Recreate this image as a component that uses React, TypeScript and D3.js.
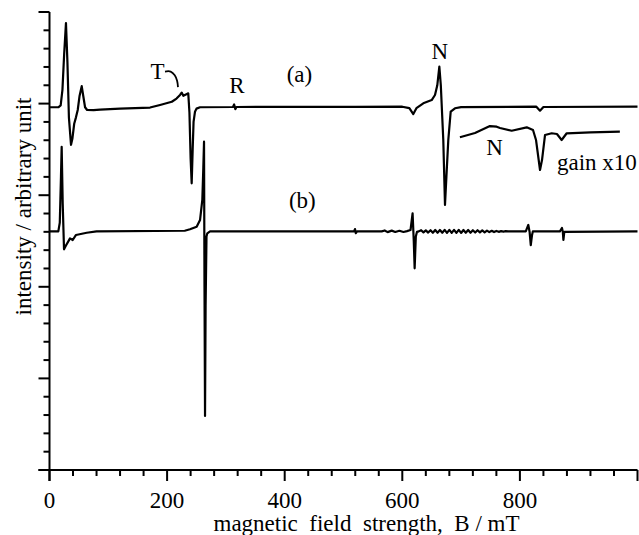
import React from "react";
import * as d3 from "d3";

// ---- data (B in mT, intensity in arbitrary units) ----
const seriesA: [number, number][] = [
  [0, 3.96], [15, 3.96], [19, 3.98], [22, 4.15], [25, 4.55], [28, 4.88], [30.5, 4.45], [33, 3.85], [36.6, 3.55],
  [39, 3.62], [42, 3.78], [45, 3.85], [48, 3.93], [51, 4.08], [54.8, 4.19], [57.5, 4.08], [60.5, 3.96], [64, 3.93],
  [75, 3.928], [86, 3.935], [120, 3.945], [171, 3.957], [188, 3.985], [208, 4.02], [216, 4.055], [222, 4.094],
  [224.8, 4.12], [227.6, 4.085], [232, 4.1], [236, 4.112], [238, 3.9], [240, 3.4], [241.8, 3.13], [243.5, 3.5],
  [245, 3.8], [247.4, 3.91], [250, 3.945], [256, 3.96], [312, 3.963], [314, 3.99], [316, 3.94], [318, 3.963],
  [520, 3.965], [600, 3.966], [612, 3.95], [618.7, 3.886], [624, 3.95], [635.7, 4.003], [650, 4.039],
  [655.6, 4.094], [659.5, 4.2], [663, 4.403], [665.5, 4.2], [669.7, 3.603], [672.6, 2.893], [675, 3.2],
  [678.2, 3.6], [682.3, 3.912], [689.6, 3.949], [700, 3.962], [828, 3.966], [834.2, 3.923], [840, 3.963],
  [1000, 3.966],
];

const seriesGain: [number, number][] = [
  [698, 3.632], [723.6, 3.679], [749, 3.755], [760.5, 3.748], [766.2, 3.734], [786, 3.704], [811.6, 3.741],
  [822.3, 3.712], [827.4, 3.603], [834.2, 3.275], [837.6, 3.384], [842.7, 3.657], [854.1, 3.676], [863, 3.668],
  [871, 3.603], [879.6, 3.676], [920, 3.685], [970, 3.693],
];

const seriesB: [number, number][] = [
  [0, 2.605], [15, 2.605], [17.5, 2.7], [19.5, 3.2], [20.7, 3.529], [22.5, 2.9], [24.7, 2.409], [28, 2.45],
  [34.9, 2.529], [39.5, 2.511], [45.1, 2.566], [63.3, 2.59], [80, 2.605], [230, 2.612], [238.9, 2.628],
  [250.3, 2.656], [256, 2.729], [259.9, 2.948], [261.6, 3.3], [262.8, 3.584], [263.6, 2.0], [264.5, 0.59],
  [265.5, 1.8], [267, 2.55], [268.4, 2.584], [273, 2.605], [518, 2.605], [519.5, 2.63], [521, 2.585], [523, 2.605],
  [565, 2.605], [570, 2.615], [575, 2.597], [582, 2.613], [588, 2.598], [595, 2.612], [602, 2.598], [608, 2.608],
  [614, 2.62], [617.5, 2.802], [619.5, 2.5], [621, 2.202], [623, 2.55], [625, 2.6],
  [628, 2.605], [632, 2.618], [636, 2.594], [640, 2.616], [644, 2.592], [648, 2.618], [652, 2.59], [656, 2.62],
  [660, 2.59], [664, 2.62], [668, 2.59], [672, 2.622], [676, 2.588], [680, 2.622], [684, 2.588], [688, 2.622],
  [692, 2.588], [696, 2.622], [700, 2.588], [704, 2.62], [708, 2.59], [712, 2.62], [716, 2.59], [720, 2.618],
  [724, 2.592], [728, 2.618], [732, 2.594], [736, 2.616], [740, 2.595], [744, 2.614], [748, 2.597], [752, 2.612],
  [756, 2.598], [760, 2.61], [764, 2.6], [768, 2.608], [772, 2.602], [776, 2.607], [780, 2.605],
  [810, 2.605], [814.3, 2.675], [816.5, 2.6], [818.5, 2.456], [820.5, 2.56], [822, 2.605],
  [868, 2.605], [871.5, 2.642], [873, 2.6], [874, 2.511], [875.5, 2.6], [1000, 2.605],
];

const tHook: [number, number][] = [[196.4, 4.35], [206, 4.35], [213, 4.31], [217, 4.25], [218.5, 4.18]];

const xMajorTicks = [0, 200, 400, 600, 800, 1000];
const xTickLabels = ["0", "200", "400", "600", "800", ""];
const yMajorTicks = [0, 1, 2, 3, 4, 5];

const annotations: { text: string; B: number; v: number; anchor: string }[] = [
  { text: "T", B: 183.7, v: 4.269, anchor: "middle" },
  { text: "R", B: 318.9, v: 4.116, anchor: "middle" },
  { text: "(a)", B: 425, v: 4.236, anchor: "middle" },
  { text: "N", B: 664, v: 4.487, anchor: "middle" },
  { text: "N", B: 757, v: 3.439, anchor: "middle" },
  { text: "gain x10", B: 863, v: 3.275, anchor: "start" },
  { text: "(b)", B: 430, v: 2.86, anchor: "middle" },
];

const W = 639;
const H = 535;
const FONT = "'Liberation Serif', 'Times New Roman', serif";

export default function App() {
  const x = d3.scaleLinear().domain([0, 1000]).range([49.5, 637.5]);
  const y = d3.scaleLinear().domain([0, 5]).range([470, 12]);
  const line = d3.line<[number, number]>().x((d) => x(d[0])).y((d) => y(d[1]));
  const hook = d3.line<[number, number]>().x((d) => x(d[0])).y((d) => y(d[1])).curve(d3.curveCatmullRom);

  const xMinor = d3.range(0, 1001, 40).filter((t) => t % 200 !== 0);
  const yMinor = d3.range(0, 25).map((i) => i * 0.2).filter((t) => Math.abs(t - Math.round(t)) > 1e-6);

  return (
    <svg width={W} height={H} style={{ position: "absolute", left: 0, top: 0, background: "#fff" }}>
      <rect width={W} height={H} fill="#fff" />
      {/* axes */}
      <line x1={x(0)} x2={x(0)} y1={y(5)} y2={y(0) + 11} stroke="#000" strokeWidth={2} />
      <line x1={x(0) - 11} x2={x(1000)} y1={y(0)} y2={y(0)} stroke="#000" strokeWidth={2} />
      {xMajorTicks.map((t) => (
        <line key={"xM" + t} x1={x(t)} x2={x(t)} y1={y(0)} y2={y(0) + 11} stroke="#000" strokeWidth={2} />
      ))}
      {xMinor.map((t) => (
        <line key={"xm" + t} x1={x(t)} x2={x(t)} y1={y(0)} y2={y(0) + 6} stroke="#000" strokeWidth={2} />
      ))}
      {yMajorTicks.map((t) => (
        <line key={"yM" + t} x1={x(0) - 11} x2={x(0)} y1={y(t)} y2={y(t)} stroke="#000" strokeWidth={2} />
      ))}
      {yMinor.map((t) => (
        <line key={"ym" + t} x1={x(0) - 6} x2={x(0)} y1={y(t)} y2={y(t)} stroke="#000" strokeWidth={2} />
      ))}
      {xMajorTicks.map((t, i) => (
        <text key={"xl" + t} x={x(t)} y={508} textAnchor="middle" fontFamily={FONT} fontSize={23} fill="#000">
          {xTickLabels[i]}
        </text>
      ))}
      <text x={366.5} y={531} textAnchor="middle" fontFamily={FONT} fontSize={23} fill="#000" style={{ whiteSpace: "pre" }}>
        {"magnetic  field  strength,  B / mT"}
      </text>
      <text transform="translate(31,206.5) rotate(-90)" textAnchor="middle" fontFamily={FONT} fontSize={23} fill="#000">
        intensity / arbitrary unit
      </text>
      {/* traces */}
      <path d={line(seriesA) || ""} fill="none" stroke="#000" strokeWidth={2.2} strokeLinejoin="round" />
      <path d={line(seriesGain) || ""} fill="none" stroke="#000" strokeWidth={2.2} strokeLinejoin="round" />
      <path d={line(seriesB) || ""} fill="none" stroke="#000" strokeWidth={2.2} strokeLinejoin="round" />
      <path d={hook(tHook) || ""} fill="none" stroke="#000" strokeWidth={1.8} />
      {annotations.map((a, i) => (
        <text key={"a" + i} x={x(a.B)} y={y(a.v)} textAnchor={a.anchor} fontFamily={FONT} fontSize={23} fill="#000">
          {a.text}
        </text>
      ))}
    </svg>
  );
}
